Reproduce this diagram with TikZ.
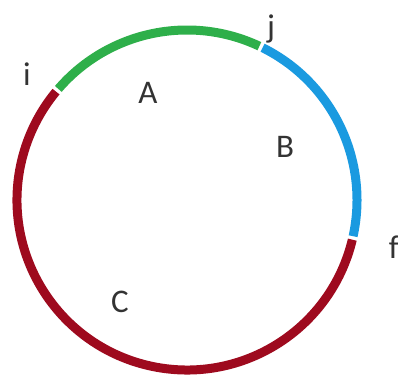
\documentclass[tikz,border=0pt]{standalone}
\usepackage{fontspec}
\setmainfont{Carlito}
\definecolor{arcgreen}{HTML}{2EAF4A}
\definecolor{arcblue}{HTML}{1A9AE0}
\definecolor{arcred}{HTML}{9E0A1E}
\definecolor{txt}{HTML}{333333}
\begin{document}
\begin{tikzpicture}[x=1pt,y=1pt,
  seg/.style={line width=9pt},
  lbl/.style={text=txt,font=\fontsize{33}{33}\selectfont,inner sep=0pt}]
\useasboundingbox (0,0) rectangle (398,379);
\coordinate (O) at (187,179);
\draw[seg,arcgreen] ([shift={(139.2:170)}]O) arc[start angle=139.2,end angle=64.8,radius=170];
\draw[seg,arcblue] ([shift={(63.6:170)}]O) arc[start angle=63.6,end angle=-12.3,radius=170];
\draw[seg,arcred] ([shift={(-13.5:170)}]O) arc[start angle=-13.5,end angle=-219.6,radius=170];
\node[lbl] (i) at (27,305) {i};
\node[lbl] (j) at (271,350) {j};
\node[lbl] (f) at (394,132) {f};
\node[lbl] (A) at (148,286) {A};
\node[lbl] (B) at (285,232) {B};
\node[lbl] (C) at (120,77) {C};
\end{tikzpicture}
\end{document}
